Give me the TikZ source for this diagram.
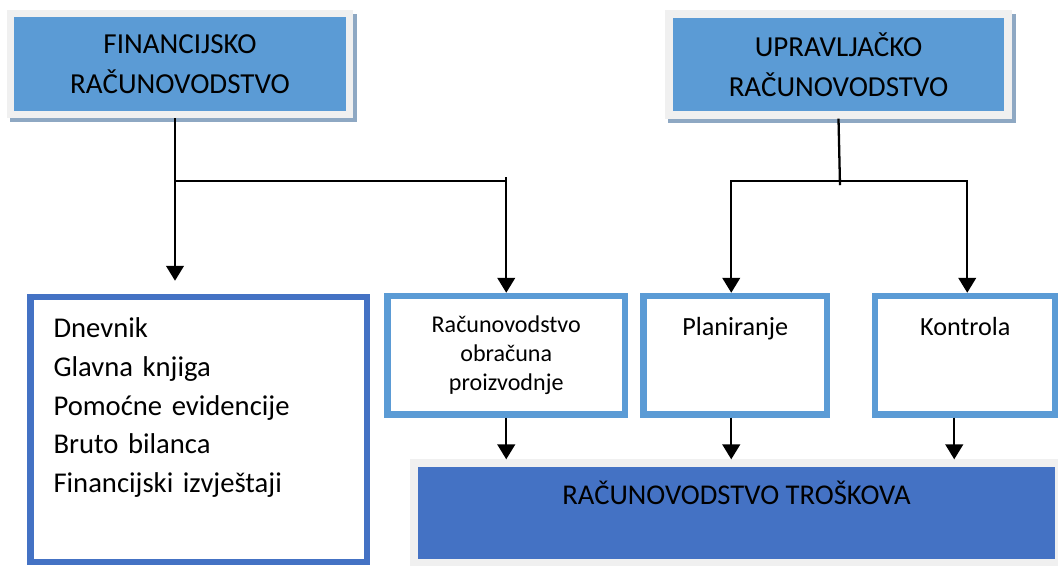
\documentclass[tikz,border=0pt]{standalone}
\usepackage{fontspec}
\setmainfont{Carlito}
\usetikzlibrary{arrows.meta, positioning, calc, backgrounds}

\definecolor{topblue}{HTML}{5B9BD5}
\definecolor{darkblue}{HTML}{4472C4}
\definecolor{framegray}{HTML}{F0F0F0}
\definecolor{shadowblue}{HTML}{8EA8C3}

\begin{document}
\begin{tikzpicture}[
    x=0.02cm,
    y=-0.02cm,
    >={Triangle[width=10pt,length=8.5pt]},
    headbox/.style={
      rectangle,
      fill=topblue,
      draw=framegray,
      line width=4.25pt,
      minimum width=6.78cm,
      minimum height=2.02cm,
      align=center,
      font=\fontsize{16.5}{22.5}\selectfont
    },
    subbox/.style={
      rectangle,
      fill=white,
      draw=topblue,
      line width=3.7pt,
      minimum height=2.37cm
    },
    toptext/.style={inner ysep=0pt, text height=22.4pt, text depth=44.8pt},
    link/.style={line width=1.3pt},
    joinline/.style={line width=0.9pt}
]
\useasboundingbox (0,0) rectangle (1058,565);

% Gornji blokovi
\node[headbox] (fin) at (180,64) {FINANCIJSKO\\RAČUNOVODSTVO};
\node[headbox] (upr) at (838.5,64.5) {UPRAVLJAČKO\\RAČUNOVODSTVO};

% Lijevi blok s popisom
\node[rectangle, draw=darkblue, fill=white, line width=3.7pt,
      inner xsep=13pt, inner ysep=0pt, text width=165.3pt, align=left,
      text height=23pt, text depth=127.8pt,
      font=\fontsize{16.3}{22.1}\selectfont] (lista) at (198.75,429.5)
  {Dnevnik\\Glavna knjiga\\Pomoćne evidencije\\Bruto bilanca\\Financijski izvještaji};

% Srednji blokovi
\node[subbox, minimum width=4.75cm, text width=4cm, align=center,
      font=\fontsize{13.7}{16.4}\selectfont] (obr) at (506.25,355.25)
  {Računovodstvo\\obračuna\\proizvodnje};
\node[subbox, toptext, minimum width=3.67cm, font=\fontsize{14.9}{18}\selectfont] (plan) at (735.25,355.25) {Planiranje};
\node[subbox, toptext, minimum width=3.61cm, font=\fontsize{14.9}{18}\selectfont] (kon) at (965.25,355.25) {Kontrola};

% Donji blok
\node[rectangle, fill=darkblue, draw=framegray, line width=4.5pt,
      minimum width=12.9cm, inner ysep=0pt, text height=23.2pt, text depth=33.4pt,
      font=\fontsize{16.3}{20}\selectfont] (cost) at (736.5,513) {RAČUNOVODSTVO TROŠKOVA};

% Sjene iza gornjih blokova
\begin{scope}[on background layer]
  \fill[white] (0,0) rectangle (1058,565);
  \fill[shadowblue] ($(fin.north west)+(3,4)$) rectangle ($(fin.south east)+(4,4)$);
  \fill[shadowblue] ($(upr.north west)+(3,4)$) rectangle ($(upr.south east)+(4,4)$);
\end{scope}

% Tocke grananja
\coordinate (fj) at ($(fin.south)+(-5,63)$);
\coordinate (oj) at (obr.north |- fj);
\coordinate (uj) at (upr.south |- fj);
\coordinate (pj) at ($(plan.north |- fj)+(-4,0)$);
\coordinate (kj) at ($(kon.north |- fj)+(2,0)$);

% Financijsko -> lista, obracun
\draw[->, link] (fin.south -| fj) -- ($(fj |- lista.north)+(0,-13)$);
\draw[joinline] (fj) -- (oj);
\draw[->, link] ($(oj)+(0,-4)$) -- (obr.north);

% Upravljacko -> planiranje, kontrola
\draw[link] (upr.south) -- ($(uj)+(1.5,4)$);
\draw[<->, link] (pj |- plan.north) -- (pj) -- (kj) -- (kj |- kon.north);

% Prema racunovodstvu troskova
\coordinate (pb) at ($(plan.south)+(-4,0)$);
\coordinate (kb) at ($(kon.south)+(-11,0)$);
\draw[->, link] (obr.south) -- (obr.south |- cost.north);
\draw[->, link] (pb) -- (pb |- cost.north);
\draw[->, link] (kb) -- (kb |- cost.north);

\end{tikzpicture}
\end{document}
